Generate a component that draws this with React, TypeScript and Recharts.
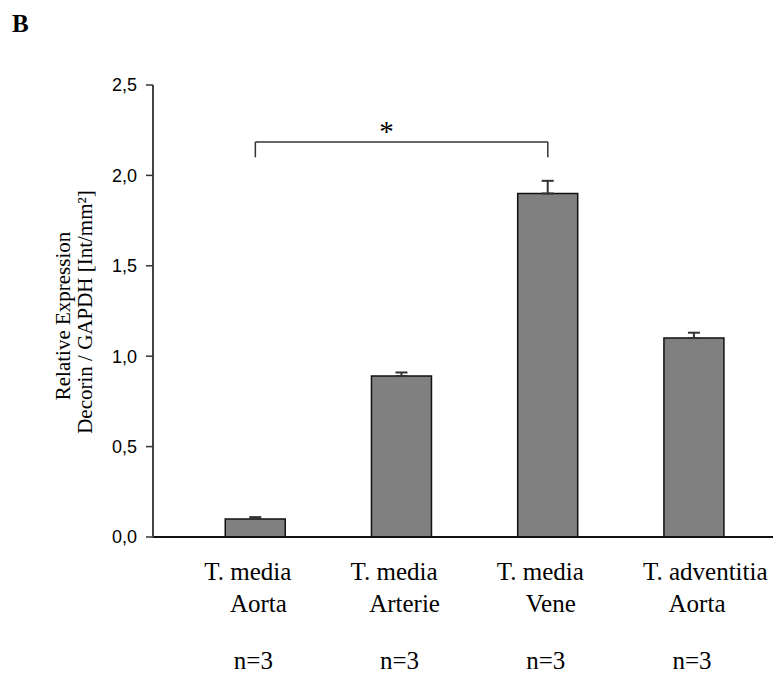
import { BarChart, Bar, XAxis, YAxis, ErrorBar, ReferenceLine } from 'recharts';

const groups = ['T. media|Aorta', 'T. media|Arterie', 'T. media|Vene', 'T. adventitia|Aorta'];
const nLabels = ['n=3', 'n=3', 'n=3', 'n=3'];
const means = [0.10, 0.89, 1.90, 1.10];
const sems = [0.01, 0.02, 0.07, 0.03];
const yTicks = [0, 0.5, 1.0, 1.5, 2.0, 2.5];
const bracketFrom = 0;
const bracketTo = 2;
const bracketTop = 2.185;
const bracketFoot = 2.1;

const data = groups.map((g, i) => ({ x: i, name: g, n: nLabels[i], mean: means[i], err: [0, sems[i]] }));

const serif = '"Liberation Serif", "Times New Roman", serif';
const sans = '"Liberation Sans", Arial, sans-serif';

function GroupTick(props: any) {
  const { x, y, payload } = props;
  const d = data[payload.value];
  if (!d) return null;
  const [l1, l2] = d.name.split('|');
  return (
    <g fontFamily={serif} fontSize={25} fill="#000">
      <text x={x - 51} y={y + 43} textAnchor="start">{l1}</text>
      <text x={x + 3} y={y + 75} textAnchor="middle">{l2}</text>
      <text x={x - 2} y={y + 132} textAnchor="middle">{d.n}</text>
    </g>
  );
}

function YTitle() {
  return (
    <g fontFamily={serif} fontSize={21} fill="#000">
      <text x={70} y={316} textAnchor="middle" transform="rotate(-90, 70, 316)">Relative Expression</text>
      <text x={92} y={312} textAnchor="middle" transform="rotate(-90, 92, 312)">Decorin / GAPDH [Int/mm²]</text>
    </g>
  );
}

function Star(props: any) {
  const vb = props.viewBox || {};
  const cx = (vb.x || 0) + (vb.width || 0) / 2 - 15;
  return (
    <text x={cx} y={(vb.y || 0) - 1} textAnchor="middle" fontFamily={serif} fontSize={29} fill="#000">*</text>
  );
}

export default function App() {
  return (
    <div style={{ position: 'absolute', left: 0, top: 0, width: 779, height: 674, background: '#fff' }}>
      <div style={{ position: 'absolute', left: 12, top: 11, fontFamily: serif, fontWeight: 'bold', fontSize: 25, lineHeight: '25px' }}>B</div>
      <BarChart width={779} height={674} data={data} margin={{ top: 85, right: 6, bottom: 0, left: 0 }}>
        <XAxis
          type="number"
          dataKey="x"
          domain={[-0.7, 3.54]}
          ticks={[0, 1, 2, 3]}
          allowDataOverflow
          height={137}
          tickLine={false}
          tickSize={0}
          tickMargin={0}
          axisLine={{ stroke: '#111', strokeWidth: 2 }}
          tick={<GroupTick />}
        />
        <YAxis
          type="number"
          domain={[0, 2.5]}
          ticks={yTicks}
          width={153}
          tickSize={7}
          tickMargin={9}
          axisLine={{ stroke: '#444', strokeWidth: 2 }}
          tickLine={{ stroke: '#333', strokeWidth: 1.5 }}
          tick={{ fill: '#000', fontSize: 18, fontFamily: sans }}
          tickFormatter={(v: number) => v.toFixed(1).replace('.', ',')}
          label={{ content: () => <YTitle /> }}
        />
        <ReferenceLine
          segment={[{ x: bracketFrom, y: bracketTop }, { x: bracketTo, y: bracketTop }]}
          stroke="#333"
          strokeWidth={1.5}
          label={<Star />}
        />
        <ReferenceLine segment={[{ x: bracketFrom, y: bracketFoot }, { x: bracketFrom, y: bracketTop }]} stroke="#333" strokeWidth={1.5} />
        <ReferenceLine segment={[{ x: bracketTo, y: bracketFoot }, { x: bracketTo, y: bracketTop }]} stroke="#333" strokeWidth={1.5} />
        <Bar dataKey="mean" barSize={60} fill="#808080" stroke="#111" strokeWidth={1.5} isAnimationActive={false}>
          <ErrorBar dataKey="err" width={6} stroke="#333" strokeWidth={2} isAnimationActive={false} />
        </Bar>
      </BarChart>
    </div>
  );
}
